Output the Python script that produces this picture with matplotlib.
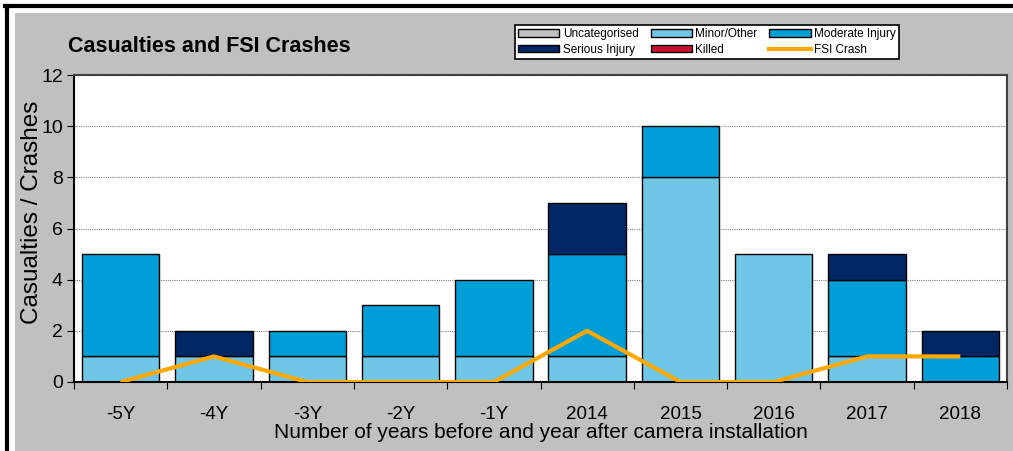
import matplotlib.pyplot as plt
import numpy as np
from matplotlib.lines import Line2D
from matplotlib.patches import Rectangle, Patch

plt.rcParams['font.family'] = ['Liberation Sans', 'DejaVu Sans']

# Data
categories = ['-5Y', '-4Y', '-3Y', '-2Y', '-1Y', '2014', '2015', '2016', '2017', '2018']
uncategorised = [0, 0, 0, 0, 0, 0, 0, 0, 0, 0]
minor = [1, 1, 1, 1, 1, 1, 8, 5, 1, 0]
moderate = [4, 0, 1, 2, 3, 4, 2, 0, 3, 1]
serious = [0, 1, 0, 0, 0, 2, 0, 0, 1, 1]
killed = [0, 0, 0, 0, 0, 0, 0, 0, 0, 0]
fsi_crash = [0, 1, 0, 0, 0, 2, 0, 0, 1, 1]

c_uncat = '#C0C0C0'
c_minor = '#70C6E6'
c_moder = '#009ED6'
c_serious = '#002663'
c_killed = '#C8102E'
c_fsi = '#FFA800'

fig = plt.figure(figsize=(10.13, 4.51), dpi=100)

# grey chart background and black frame lines
fig.patches.append(Rectangle((15 / 1013, 0), 1 - 15 / 1013, 1 - 13 / 451,
                             transform=fig.transFigure, facecolor='#C0C0C0',
                             edgecolor='none', zorder=-5))
fig.lines.append(Line2D([5 / 1013, 1], [1 - 6 / 451, 1 - 6 / 451],
                        transform=fig.transFigure, color='black', lw=3, zorder=-4))
fig.lines.append(Line2D([6.5 / 1013, 6.5 / 1013], [0, 1 - 6 / 451],
                        transform=fig.transFigure, color='black', lw=3, zorder=-4))

ax = fig.add_axes([74 / 1013, 1 - 382 / 451, (1007 - 74) / 1013, (382 - 75) / 451])
ax.set_facecolor('white')

x = np.arange(len(categories))
w = 0.83
bottom = np.zeros(len(categories))
for vals, col in [(uncategorised, c_uncat), (minor, c_minor), (moderate, c_moder),
                  (serious, c_serious), (killed, c_killed)]:
    vals = np.array(vals, dtype=float)
    mask = vals > 0
    ax.bar(x[mask], vals[mask], w, bottom=bottom[mask], color=col,
           edgecolor='black', linewidth=1, zorder=2)
    bottom += vals

ax.plot(x, fsi_crash, color=c_fsi, lw=3, zorder=3, solid_capstyle='butt')

ax.set_xlim(-0.5, len(categories) - 0.5)
ax.set_ylim(0, 12)
ax.set_yticks(range(0, 13, 2))
ax.yaxis.grid(True, color='#808080', linestyle=(0, (1, 1)), lw=0.8, zorder=1)
ax.set_axisbelow(True)

ax.set_xticks(np.arange(-0.5, len(categories) + 0.5, 1))
ax.set_xticklabels([])
ax.set_xticks(x, minor=True)
ax.set_xticklabels(categories, minor=True, fontsize=13.5)
ax.tick_params(axis='x', which='minor', length=0, pad=17)
ax.tick_params(axis='x', which='major', length=5, direction='out')
ax.tick_params(axis='y', labelsize=14, length=5, direction='out', pad=3)

for s in ['left', 'bottom']:
    ax.spines[s].set_color('black')
    ax.spines[s].set_linewidth(1.5)
for s in ['top', 'right']:
    ax.spines[s].set_color('#404040')
    ax.spines[s].set_linewidth(1.5)

ax.set_ylabel('Casualties / Crashes', fontsize=17.5)
ax.yaxis.set_label_coords(-0.033, 0.554)
ax.set_xlabel('Number of years before and year after camera installation',
              fontsize=15, labelpad=0)

fig.text(68 / 1013, 1 - 46 / 451, 'Casualties and FSI Crashes', fontsize=15.5,
         fontweight='bold', va='center', ha='left')

handles = [
    Patch(facecolor=c_uncat, edgecolor='black', label='Uncategorised'),
    Patch(facecolor=c_serious, edgecolor='black', label='Serious Injury'),
    Patch(facecolor=c_minor, edgecolor='black', label='Minor/Other'),
    Patch(facecolor=c_killed, edgecolor='black', label='Killed'),
    Patch(facecolor=c_moder, edgecolor='black', label='Moderate Injury'),
    Line2D([], [], color=c_fsi, lw=3, label='FSI Crash'),
]
leg = fig.legend(handles=handles, ncol=3, loc='center',
                 bbox_to_anchor=(707 / 1013, 1 - 42 / 451), fontsize=8.5,
                 frameon=True, fancybox=False, edgecolor='black',
                 facecolor='white', framealpha=1,
                 handlelength=3.5, handleheight=0.6, handletextpad=0.3,
                 columnspacing=1.0, labelspacing=0.3, borderpad=0.3)
leg.get_frame().set_linewidth(1.2)

fig.savefig('out.png', dpi=100)
